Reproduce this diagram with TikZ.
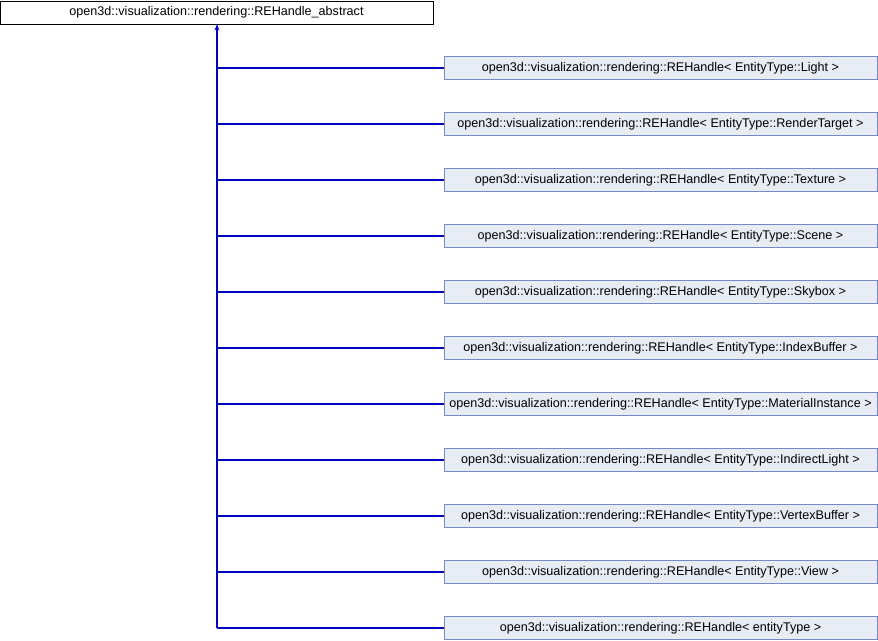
\documentclass[tikz,border=0pt]{standalone}
\usepackage{fontspec}
\setmainfont{Liberation Sans}
\usetikzlibrary{arrows.meta}
\definecolor{edgeblue}{RGB}{0,0,190}
\definecolor{childfill}{RGB}{232,236,244}
\definecolor{childdraw}{RGB}{112,140,200}
\tikzset{
  basebox/.style={draw=black, fill=white, line width=0.9pt, minimum width=433pt, minimum height=23pt, inner sep=0pt, font=\fontsize{12.6}{14}\selectfont},
  childbox/.style={draw=childdraw, fill=childfill, line width=0.9pt, minimum width=433pt, minimum height=23pt, inner sep=0pt, font=\fontsize{12.6}{14}\selectfont},
  connector/.style={color=edgeblue, line width=1.1pt},
}
\begin{document}
\begin{tikzpicture}[x=1pt,y=-1pt]
\useasboundingbox (0,0) rectangle (878,640);
\node[basebox] (base) at (216.5,12.5) {open3d::visualization::rendering::REHandle\_abstract};
\coordinate (trunk) at (217,628);
\foreach \i/\t in {0/Light,1/RenderTarget,2/Texture,3/Scene,4/Skybox,5/IndexBuffer,6/MaterialInstance,7/IndirectLight,8/VertexBuffer,9/View}{
  \node[childbox] (c\i) at (660.5,68+56*\i) {open3d::visualization::rendering::REHandle<\ EntityType::\t\ >};
  \draw[connector] (c\i.west) -- (217,68+56*\i);
}
\node[childbox] (c10) at (660.5,628) {open3d::visualization::rendering::REHandle<\ entityType\ >};
\draw[connector] (c10.west) -- (trunk);
\draw[connector, -{Stealth[length=6pt,width=5pt]}] (trunk) -- (base.south -| trunk);
\end{tikzpicture}
\end{document}
